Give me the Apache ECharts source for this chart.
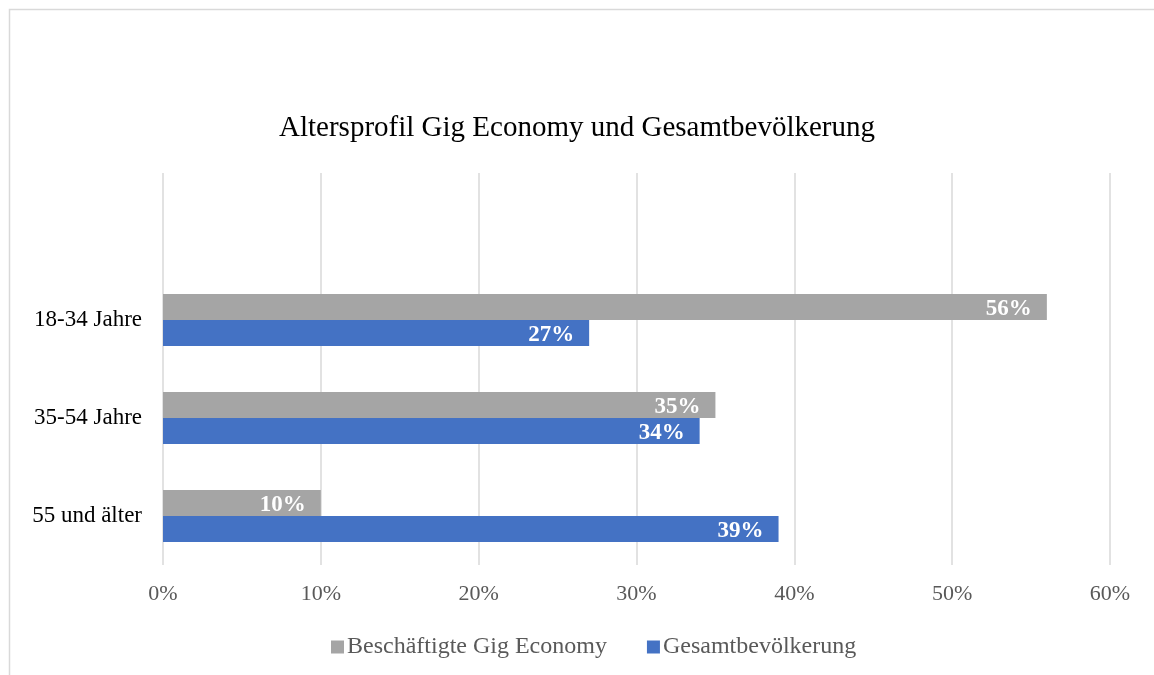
<!DOCTYPE html>
<html>
<head>
<meta charset="utf-8">
<script src="https://cdn.jsdelivr.net/npm/echarts@6/dist/echarts.min.js"></script>
<style>
  html, body { margin: 0; padding: 0; background: #fff; }
  #chart { width: 1154px; height: 675px; }
</style>
</head>
<body>
<div id="chart"></div>
<script>
// empty first category keeps the blank band above the bars, like the original
const categories = ['', '18-34 Jahre', '35-54 Jahre', '55 und älter'];
const gigWorkers = [null, 56, 35, 10];
const population = [null, 27, 34, 39];
const seriesNames = ['Beschäftigte Gig Economy', 'Gesamtbevölkerung'];

const serif = '"Liberation Serif", "Times New Roman", serif';
const chart = echarts.init(document.getElementById('chart'));

const barLabel = {
  show: true,
  position: 'insideRight',
  distance: 15,
  offset: [0, 2],
  color: '#fff',
  fontFamily: serif,
  fontWeight: 'bold',
  fontSize: 23,
  formatter: p => p.value + '%'
};

chart.setOption({
  animation: false,
  title: {
    text: 'Altersprofil Gig Economy und Gesamtbevölkerung',
    left: 'center',
    top: 109,
    textStyle: { fontFamily: serif, fontWeight: 'normal', fontSize: 29, color: '#000' }
  },
  graphic: [{
    type: 'rect',
    shape: { x: 9.5, y: 9.5, width: 1200, height: 700 },
    style: { fill: 'none', stroke: '#d9d9d9', lineWidth: 1.5 },
    silent: true
  }],
  legend: {
    bottom: 11,
    left: 326,
    itemWidth: 13,
    itemHeight: 13,
    itemGap: 40,
    icon: 'rect',
    textStyle: { fontFamily: serif, fontSize: 24, color: '#595959', padding: [0, 0, 0, -2] },
    data: seriesNames
  },
  grid: { left: 163, right: 44, top: 173, bottom: 110 },
  xAxis: {
    type: 'value',
    min: 0,
    max: 60,
    interval: 10,
    axisLine: { show: false },
    axisTick: { show: false },
    axisLabel: {
      formatter: '{value}%',
      margin: 18,
      fontFamily: serif,
      fontSize: 22,
      color: '#595959'
    },
    splitLine: { lineStyle: { color: '#d9d9d9', width: 1.5 } }
  },
  yAxis: {
    type: 'category',
    inverse: true,
    data: categories,
    axisLine: { show: false },
    axisTick: { show: false },
    axisLabel: {
      margin: 21,
      padding: [5, 0, 0, 0],
      fontFamily: serif,
      fontSize: 23,
      color: '#000'
    }
  },
  series: [
    {
      name: seriesNames[0],
      type: 'bar',
      data: gigWorkers,
      barWidth: 26,
      barGap: '0%',
      itemStyle: { color: '#a5a5a5' },
      label: barLabel
    },
    {
      name: seriesNames[1],
      type: 'bar',
      data: population,
      barWidth: 26,
      barGap: '0%',
      itemStyle: { color: '#4472c4' },
      label: barLabel
    }
  ]
});
</script>
</body>
</html>
